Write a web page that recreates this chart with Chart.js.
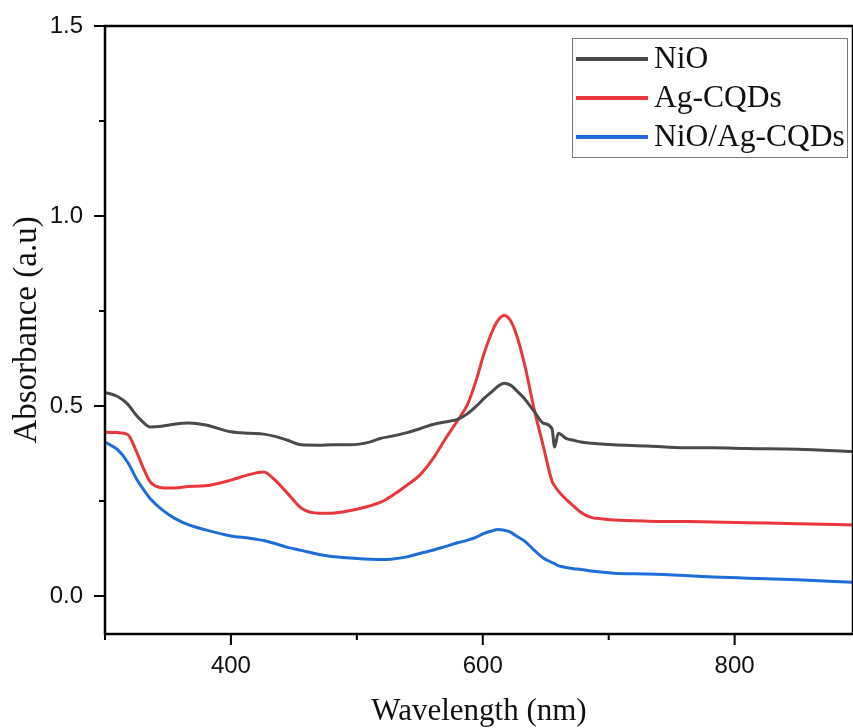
<!DOCTYPE html>
<html>
<head>
<meta charset="utf-8">
<script src="https://cdn.jsdelivr.net/npm/chart.js@4"></script>
<style>
  body { margin: 0; background: #fff; }
  canvas { display: block; }
</style>
</head>
<body>
<canvas id="uvChart" width="853" height="728"></canvas>
<script>
// wavelengths (nm) shared by the three spectra
const wavelengths = [300, 310, 318, 325, 330, 336, 345, 355, 366, 380, 400, 415, 426, 435, 445, 456, 470, 480, 495, 510,
  519, 527, 540, 550, 561, 570, 580, 588, 595, 601, 608, 612, 617, 622, 627, 633, 641, 648, 655, 657, 660,
  666, 672, 678, 686, 694, 704, 731, 760, 783, 810, 850, 894];

const nioValues = [0.536, 0.525, 0.505, 0.475, 0.458, 0.445, 0.447, 0.452, 0.455, 0.450, 0.432, 0.428, 0.426, 0.420, 0.410, 0.398, 0.397, 0.398, 0.398, 0.405,
  0.415, 0.420, 0.430, 0.440, 0.452, 0.458, 0.465, 0.480, 0.500, 0.520, 0.540, 0.552, 0.560, 0.555, 0.540, 0.520, 0.485, 0.455, 0.440, 0.392, 0.428,
  0.415, 0.410, 0.405, 0.402, 0.400, 0.398, 0.395, 0.390, 0.390, 0.388, 0.386, 0.380];

const agcqdValues = [0.431, 0.430, 0.425, 0.380, 0.340, 0.300, 0.285, 0.284, 0.288, 0.290, 0.305, 0.320, 0.326, 0.305, 0.270, 0.231, 0.218, 0.218, 0.225, 0.237,
  0.247, 0.262, 0.292, 0.318, 0.364, 0.412, 0.462, 0.505, 0.570, 0.638, 0.700, 0.725, 0.738, 0.725, 0.685, 0.612, 0.489, 0.395, 0.302, 0.290, 0.276,
  0.255, 0.237, 0.220, 0.207, 0.203, 0.200, 0.197, 0.196, 0.195, 0.193, 0.190, 0.187];

const compositeValues = [0.405, 0.385, 0.352, 0.308, 0.283, 0.256, 0.228, 0.205, 0.188, 0.174, 0.158, 0.152, 0.146, 0.138, 0.128, 0.120, 0.109, 0.104, 0.100, 0.097,
  0.096, 0.097, 0.103, 0.112, 0.121, 0.130, 0.140, 0.147, 0.155, 0.165, 0.172, 0.175, 0.173, 0.168, 0.157, 0.145, 0.120, 0.100, 0.088, 0.085, 0.080,
  0.075, 0.072, 0.070, 0.066, 0.063, 0.060, 0.058, 0.054, 0.050, 0.047, 0.043, 0.036];

const seriesLabels = ['NiO', 'Ag-CQDs', 'NiO/Ag-CQDs'];
const seriesColors = ['#4a4a4a', '#e8383d', '#1f6ed8'];

// tick labels and minor tick positions
const xMajorTicks = [400, 600, 800];
const xMinorTicks = [300, 500, 700, 900];
const yMajorTicks = [0.0, 0.5, 1.0, 1.5];
const yMinorTicks = [0.25, 0.75, 1.25];

const toPoints = vals => wavelengths.map((w, i) => ({ x: w, y: vals[i] }));

// frame, major/minor ticks and legend box drawn on top of the chart
const frameAndLegend = {
  id: 'frameAndLegend',
  afterDraw(chart) {
    const { ctx, chartArea: a, scales: { x, y } } = chart;
    ctx.save();
    ctx.strokeStyle = '#000';
    ctx.lineWidth = 2.5;
    ctx.strokeRect(a.left, a.top, a.right - a.left, a.bottom - a.top);

    ctx.lineWidth = 2;
    ctx.beginPath();
    xMajorTicks.forEach(v => { const p = x.getPixelForValue(v); ctx.moveTo(p, a.bottom); ctx.lineTo(p, a.bottom + 11); });
    xMinorTicks.forEach(v => { const p = x.getPixelForValue(v); ctx.moveTo(p, a.bottom); ctx.lineTo(p, a.bottom + 6); });
    yMajorTicks.forEach(v => { const p = y.getPixelForValue(v); ctx.moveTo(a.left, p); ctx.lineTo(a.left - 11, p); });
    yMinorTicks.forEach(v => { const p = y.getPixelForValue(v); ctx.moveTo(a.left, p); ctx.lineTo(a.left - 6, p); });
    ctx.stroke();

    // legend
    const bx = 572, by = 38, bw = 275, bh = 119;
    ctx.fillStyle = '#fff';
    ctx.fillRect(bx, by, bw, bh);
    ctx.strokeStyle = '#7a7a7a';
    ctx.lineWidth = 1;
    ctx.strokeRect(bx + 0.5, by + 0.5, bw, bh);
    ctx.font = '31.5px "Liberation Serif", "Times New Roman", serif';
    ctx.textBaseline = 'middle';
    chart.data.datasets.forEach((ds, i) => {
      const ly = 59 + i * 39;
      ctx.strokeStyle = ds.borderColor;
      ctx.lineWidth = 4;
      ctx.beginPath();
      ctx.moveTo(576, ly);
      ctx.lineTo(648, ly);
      ctx.stroke();
      ctx.fillStyle = '#111';
      ctx.fillText(ds.label, 654, ly + 1);
    });
    ctx.restore();
  }
};

const ctx = document.getElementById('uvChart').getContext('2d');
const uvChart = new Chart(ctx, {
  type: 'line',
  data: {
    datasets: [nioValues, agcqdValues, compositeValues].map((vals, i) => ({
      label: seriesLabels[i],
      data: toPoints(vals),
      borderColor: seriesColors[i],
      borderWidth: 3,
      pointRadius: 0,
      fill: false,
      cubicInterpolationMode: 'monotone'
    }))
  },
  options: {
    responsive: false,
    animation: false,
    layout: { padding: { top: 26, right: 0, left: 0, bottom: 0 } },
    plugins: { legend: { display: false }, tooltip: { enabled: false } },
    scales: {
      x: {
        type: 'linear',
        min: 300,
        max: 894,
        afterBuildTicks: s => { s.ticks = xMajorTicks.map(v => ({ value: v })); },
        afterFit: s => { s.height = 94; },
        grid: { drawOnChartArea: false, tickLength: 11, tickColor: 'rgba(0,0,0,0)' },
        border: { display: false },
        ticks: {
          color: '#111',
          padding: 7,
          maxRotation: 0,
          font: { family: '"Liberation Sans", Arial, sans-serif', size: 24 },
          callback: v => String(v)
        },
        title: {
          display: true,
          text: 'Wavelength (nm)',
          color: '#111',
          padding: { top: 0, bottom: 1 },
          font: { family: '"Liberation Serif", "Times New Roman", serif', size: 31, lineHeight: 1 }
        }
      },
      y: {
        min: -0.1,
        max: 1.5,
        afterBuildTicks: s => { s.ticks = yMajorTicks.map(v => ({ value: v })); },
        afterFit: s => { s.width = 105; },
        grid: { drawOnChartArea: false, tickLength: 11, tickColor: 'rgba(0,0,0,0)' },
        border: { display: false },
        ticks: {
          color: '#111',
          padding: 11,
          font: { family: '"Liberation Sans", Arial, sans-serif', size: 24 },
          callback: v => Number(v).toFixed(1)
        },
        title: {
          display: true,
          text: 'Absorbance (a.u)',
          color: '#111',
          padding: { top: 11, bottom: 0 },
          font: { family: '"Liberation Serif", "Times New Roman", serif', size: 33, lineHeight: 1 }
        }
      }
    }
  },
  plugins: [frameAndLegend]
});
</script>
</body>
</html>
